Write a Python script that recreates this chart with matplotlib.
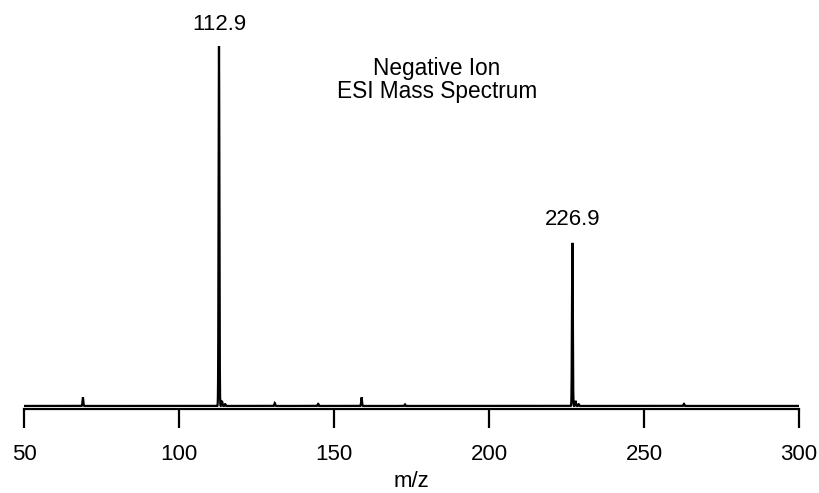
import numpy as np
import matplotlib
matplotlib.use("Agg")
import matplotlib.pyplot as plt

plt.rcParams['font.family'] = ['Liberation Sans', 'DejaVu Sans']

# Peak list: m/z and relative intensity
peak_mz = [69.0, 112.9, 113.9, 114.9, 130.9, 144.9, 158.9, 172.9, 226.9, 227.9, 228.9, 262.9]
peak_int = [0.024, 1.0, 0.012, 0.005, 0.008, 0.006, 0.024, 0.004, 0.453, 0.014, 0.005, 0.006]
labeled_mz = [112.9, 226.9]
labeled_int = [1.0, 0.453]
label_offsets = [15.5, 16.5]  # points above the peak top

xticks = [50, 100, 150, 200, 250, 300]
title_lines = "Negative Ion\nESI Mass Spectrum"

# Profile spectrum built from the peak list
mz = np.arange(50, 300.001, 0.02)
sigma = 0.13
intensity = np.zeros_like(mz)
for c, h in zip(peak_mz, peak_int):
    intensity += h * np.exp(-0.5 * ((mz - c) / sigma) ** 2)

fig = plt.figure(figsize=(8.2, 4.93), dpi=100)
ax = fig.add_axes([24 / 820, 1 - 409 / 493, 775 / 820, 363 / 493])
ax.plot(mz, intensity, color='black', lw=1.6, solid_joinstyle='miter')
ax.set_xlim(50, 300)
ax.set_ylim(-0.0085, 1.0)

for s in ['top', 'right', 'left']:
    ax.spines[s].set_visible(False)
ax.spines['bottom'].set_linewidth(1.6)
ax.set_yticks([])
ax.set_xticks(xticks)
ax.tick_params(axis='x', direction='out', length=13.5, width=1.6, pad=11.5, labelsize=16)
ax.set_xlabel('m/z', fontsize=16, labelpad=4.5)

for x, y, off in zip(labeled_mz, labeled_int, label_offsets):
    ax.annotate(f"{x:.1f}", xy=(x, y), xytext=(0, off), textcoords='offset points',
                ha='center', va='center', fontsize=16)

ax.text(437 / 820, 1 - 80 / 493, title_lines, transform=fig.transFigure,
        ha='center', va='center', fontsize=16.3, linespacing=1.03)

fig.savefig('out.png', dpi=100)
